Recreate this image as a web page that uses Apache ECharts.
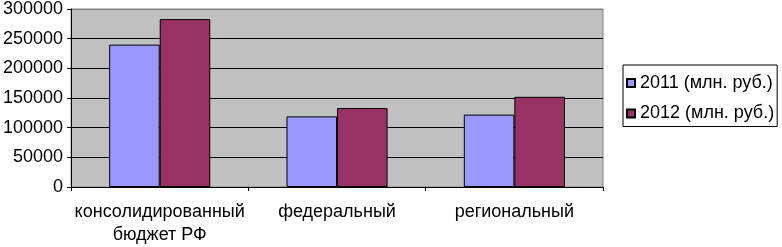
<!DOCTYPE html>
<html>
<head>
<meta charset="utf-8">
<script src="https://cdn.jsdelivr.net/npm/echarts@6/dist/echarts.min.js"></script>
<style>html,body{margin:0;padding:0;background:#fff;}#c{width:782px;height:247px;}</style>
</head>
<body>
<div id="c"></div>
<script>
const categories = ['консолидированный\nбюджет РФ', 'федеральный', 'региональный'];
const seriesNames = ['2011 (млн. руб.)', '2012 (млн. руб.)'];
const values2011 = [240000, 119000, 122000];
const values2012 = [283000, 133000, 152000];
const yMin = 0, yMax = 300000, yStep = 50000;

const FONT = '"Liberation Sans", Arial, sans-serif';
const chart = echarts.init(document.getElementById('c'), null, {renderer: 'canvas'});
chart.setOption({
  animation: false,
  backgroundColor: '#ffffff',
  textStyle: {fontFamily: FONT, color: '#000'},
  grid: {
    left: 71, right: 179, top: 7, bottom: 59.5,
    show: true, backgroundColor: '#c0c0c0', borderColor: '#808080', borderWidth: 1
  },
  legend: {
    orient: 'vertical', left: 623, top: 65,
    padding: [8, 3, 3, 3], itemGap: 10.5,
    itemWidth: 8, itemHeight: 8,
    borderColor: '#000', borderWidth: 1,
    icon: 'rect',
    textStyle: {fontFamily: FONT, fontSize: 18, color: '#000', lineHeight: 20},
    data: seriesNames
  },
  xAxis: {
    type: 'category', data: categories,
    axisLine: {lineStyle: {color: '#000', width: 1}},
    axisTick: {show: true, length: 4, lineStyle: {color: '#000'}},
    axisLabel: {fontFamily: FONT, fontSize: 18, color: '#000', margin: 14, lineHeight: 23, interval: 0}
  },
  yAxis: {
    type: 'value', min: yMin, max: yMax, interval: yStep,
    axisLine: {show: true, lineStyle: {color: '#000', width: 1}},
    axisTick: {show: true, length: 4, lineStyle: {color: '#000'}},
    axisLabel: {fontFamily: FONT, fontSize: 18, color: '#000', margin: 8,
      formatter: function (v) { return String(v); }},
    splitLine: {show: true, lineStyle: {color: ['#000', '#000', '#000', '#000', '#000', '#000', '#808080'], width: 1}}
  },
  series: [
    {name: seriesNames[0], type: 'bar', data: values2011, barGap: '0%', barCategoryGap: '43%',
     itemStyle: {color: '#9999ff', borderColor: '#000', borderWidth: 1}},
    {name: seriesNames[1], type: 'bar', data: values2012, barGap: '0%', barCategoryGap: '43%',
     itemStyle: {color: '#993366', borderColor: '#000', borderWidth: 1}}
  ]
});
</script>
</body>
</html>
